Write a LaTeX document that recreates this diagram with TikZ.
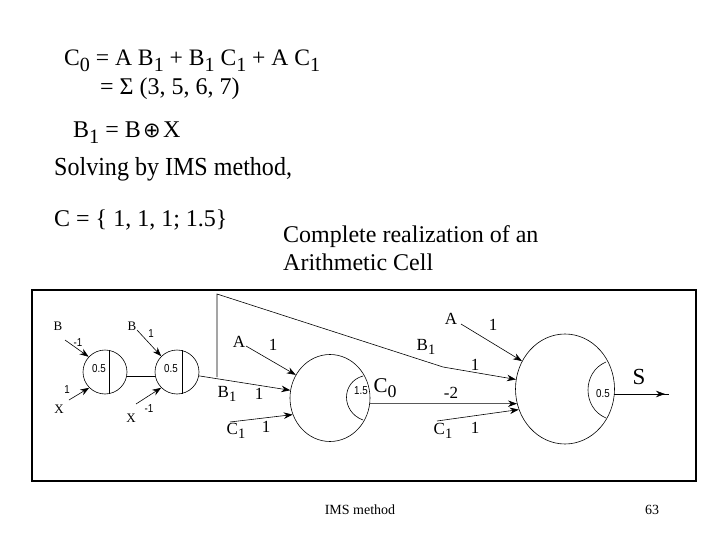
\documentclass[tikz,border=0pt]{standalone}
\usepackage{fontspec}
\setmainfont{Liberation Serif}
\newfontfamily\lblsans{Liberation Sans}
\newfontfamily\symfont{DejaVu Sans}
\usetikzlibrary{arrows.meta,shapes.geometric}
\newcommand{\subt}[1]{\raisebox{-0.25em}{\scalebox{0.85}{#1}}}
\tikzset{
  txt/.style={anchor=base west,inner sep=0pt,font=\fontsize{24}{24}\selectfont},
  lbl/.style={anchor=center,inner sep=0pt,font=\fontsize{17}{17}\selectfont},
  small/.style={anchor=center,inner sep=0pt,font=\lblsans\fontsize{11.5}{12}\selectfont,xscale=.85},
  smallserif/.style={anchor=center,inner sep=0pt,font=\fontsize{13}{13}\selectfont},
  foot/.style={anchor=center,inner sep=0pt,font=\fontsize{14}{14}\selectfont},
  neuron/.style={draw,ellipse,inner sep=0pt,line width=.6pt},
  wire/.style={line width=.6pt},
  arr/.style={line width=.6pt,-{Stealth[length=9pt,width=6.5pt]}}
}
\begin{document}
\begin{tikzpicture}[x=1pt,y=-1pt]
\useasboundingbox (0,0) rectangle (720,540);
\node[draw,line width=2pt,minimum width=664pt,minimum height=191pt,inner sep=0pt,anchor=north west] (frame) at (31,289) {};
% equations
\node[txt,font=\fontsize{23.6}{24}\selectfont] (eq1) at (64,66) {C\subt{0} = A B\subt{1} + B\subt{1} C\subt{1} + A C\subt{1}};
\node[txt] (eq2) at (100,95) {= Σ (3, 5, 6, 7)};
\node[txt] (eq3) at (73,138) {B\subt{1} = B};
\node[inner sep=0pt,font=\symfont\fontsize{21}{21}\selectfont] (xo) at (152,131) {⊕};
\node[txt] (eq3b) at (163,138) {X};
\node[txt,xscale=.925,font=\fontsize{26}{26}\selectfont] (solv) at (54,176) {Solving by IMS method,};
\node[txt] (eq4) at (54,226) {C = \{ 1, 1, 1; 1.5\}};
\node[txt] (cap1) at (283,242) {Complete realization of an};
\node[txt] (cap2) at (283,270) {Arithmetic Cell};
% neurons
\node[neuron,minimum width=44pt,minimum height=44pt] (n1) at (105,372) {};
\node[neuron,minimum width=44pt,minimum height=44pt] (n2) at (177,372) {};
\node[neuron,minimum width=80pt,minimum height=87pt] (n3) at (330,398) {};
\node[neuron,minimum width=99pt,minimum height=110pt] (n4) at (565,389) {};
% inner dividers
\draw[wire] (109,350) -- (109,394);
\draw[wire] (182,350) -- (182,394);
\draw[wire] (363,376) .. controls (341,382) and (341,412) .. (363,420);
\draw[wire] (606,362) .. controls (582,372) and (582,408) .. (606,418);
% inner labels
\node[small] (t1) at (99,369) {0.5};
\node[small] (t2) at (171,369) {0.5};
\node[small] (t3) at (361,391) {1.5};
\node[small] (t4) at (603,394) {0.5};
% free ends
\coordinate (bA) at (65,340);
\coordinate (xA) at (69,400);
\coordinate (bB) at (137,330);
\coordinate (xB) at (136,404);
\coordinate (a1) at (246,346);
\coordinate (c1) at (230,422);
\coordinate (a2) at (461,324);
\coordinate (c2) at (437,421);
\coordinate (fb0) at (217,377);
\coordinate (fb1) at (217,294);
\coordinate (fb2) at (443,367);
\coordinate (outsrc) at (614,394);
\coordinate (outhead) at (665,394);
\coordinate (outend) at (669,394);
% connectors
\draw[arr] (bA) -- (n1.137);
\draw[arr] (xA) -- (n1.225);
\draw[arr] (bB) -- (n2.135);
\draw[arr] (xB) -- (n2.225);
\draw[wire] (n1.-10) -- (n2.190);
\draw[arr] (n2.-10) -- (n3.169);
\draw[arr] (a1) -- (n3.146);
\draw[arr] (c1) -- (n3.204);
\draw[arr] (a2) -- (n4.147);
\draw[arr] (c2) -- (n4.204);
\draw[arr] (n3.-8) -- (n4.197);
\draw[arr] (fb0) -- (fb1) -- (fb2) -- (n4.169);
\draw[wire] (outsrc) -- (outend);
\draw[arr] (outsrc) -- (outhead);
% labels
\node[smallserif] (lb1) at (58,326) {B};
\node[smallserif] (lb2) at (132,326) {B};
\node[smallserif] (lx1) at (59,409) {X};
\node[smallserif] (lx2) at (131,418) {X};
\node[small] (w1) at (78,343) {-1};
\node[small] (w2) at (151,334) {1};
\node[small] (w3) at (67,390) {1};
\node[small] (w4) at (149,409) {-1};
\node[lbl] (la) at (239,342) {A};
\node[lbl] (w5) at (273,345) {1};
\node[lbl] (lb) at (227,394) {B\subt{1}};
\node[lbl] (w6) at (259,394) {1};
\node[lbl] (lc) at (236,431) {C\subt{1}};
\node[lbl] (w7) at (266,427) {1};
\node[lbl,font=\fontsize{21}{21}\selectfont] (c0) at (385,388) {C\subt{0}};
\node[lbl] (la2) at (451,319) {A};
\node[lbl] (w8) at (493,325) {1};
\node[lbl] (lb2b) at (426,347) {B\subt{1}};
\node[lbl] (w9) at (475,365) {1};
\node[lbl] (w10) at (451,393) {-2};
\node[lbl] (lc2) at (443,431) {C\subt{1}};
\node[lbl] (w11) at (475,428) {1};
\node[lbl,font=\fontsize{23}{23}\selectfont] (ls) at (639,377) {S};
\node[foot] (fa) at (360,510) {IMS method};
\node[foot] (fb) at (652,510) {63};
\end{tikzpicture}
\end{document}
